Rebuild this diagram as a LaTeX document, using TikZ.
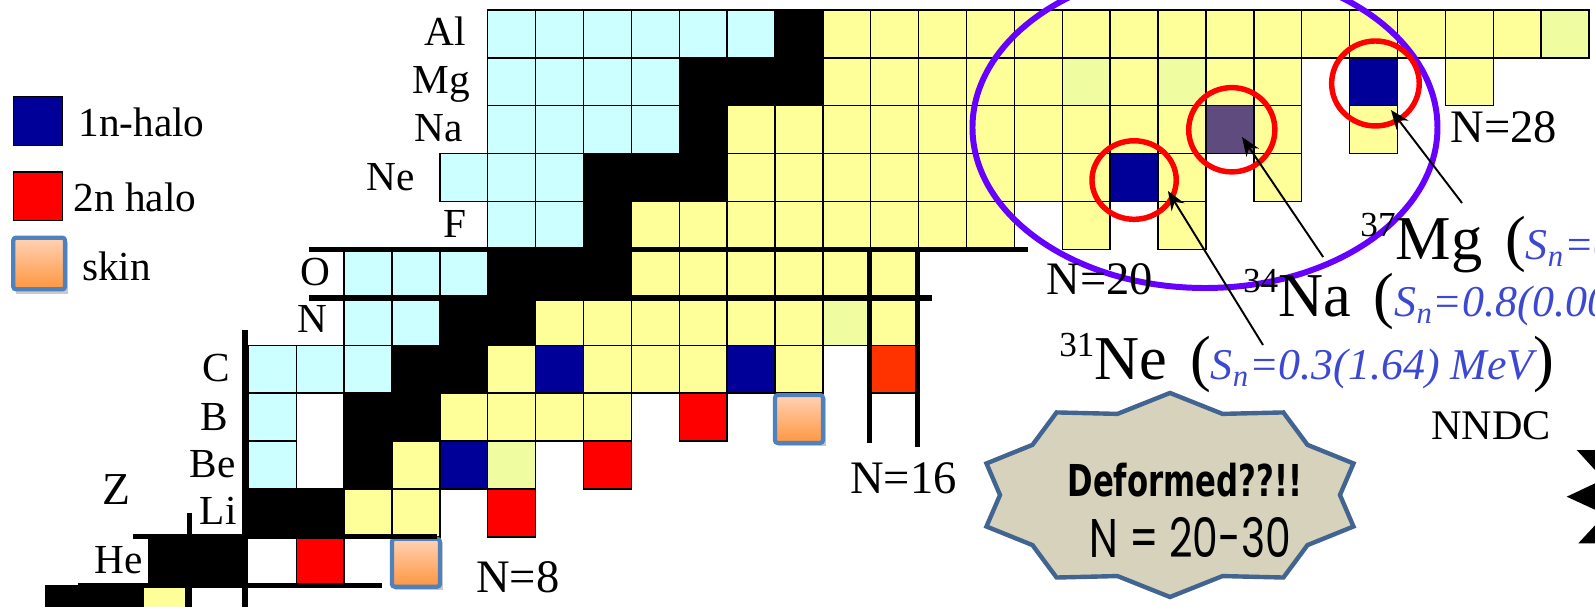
\documentclass[tikz,border=0pt]{standalone}
\usepackage{fontspec}
\setmainfont{Liberation Serif}
\newfontfamily\burstfont[FakeStretch=0.7]{DejaVu Sans}
\newfontfamily\handfont[FakeStretch=0.75]{Poppins}
\usetikzlibrary{arrows.meta}
\definecolor{protonrich}{RGB}{204,255,255}
\definecolor{betaminus}{RGB}{255,255,153}
\definecolor{palecell}{RGB}{240,252,160}
\definecolor{onehalo}{RGB}{0,0,153}
\definecolor{twohalo}{RGB}{255,0,0}
\definecolor{twohalob}{RGB}{255,51,0}
\definecolor{nacell}{RGB}{95,75,125}
\definecolor{skintop}{RGB}{255,210,180}
\definecolor{skinbot}{RGB}{255,150,64}
\definecolor{skinedge}{RGB}{79,129,189}
\definecolor{islandcol}{RGB}{102,0,255}
\definecolor{snblue}{RGB}{60,72,210}
\definecolor{burstfill}{RGB}{214,210,188}
\definecolor{burstedge}{RGB}{65,100,145}
\newcommand{\nuc}[3]{\draw[#3] (#1,#2) rectangle ++(1,1);}
\newcommand{\skincell}[2]{%
  \fill[black!35,opacity=0.6] (#1+0.06,#2-0.1) rectangle ++(1,1);
  \draw[skin] (#1,#2-0.04) rectangle ++(1,1);}
\newcommand{\massno}[1]{{\fontsize{20}{20}\selectfont\raisebox{13.6pt}{#1}}}
\newcommand{\sn}[1]{\textcolor{snblue}{\fontsize{25}{25}\selectfont\itshape S\textsubscript{n}=#1}}
\tikzset{
  cell/.style={draw=black,line width=0.8pt},
  cy/.style={cell,fill=protonrich},
  ye/.style={cell,fill=betaminus},
  pl/.style={cell,fill=palecell},
  st/.style={cell,fill=black},
  ha/.style={cell,fill=onehalo},
  hb/.style={cell,fill=twohalo},
  hc/.style={cell,fill=twohalob},
  nap/.style={cell,fill=nacell},
  skin/.style={draw=skinedge,line width=2.4pt,rounded corners=1.5pt,top color=skintop,bottom color=skinbot},
  magic/.style={line width=2.9pt},
  ring/.style={draw=red,line width=3.1pt},
  pointer/.style={-{Stealth[length=0.38cm,width=0.3cm]},line width=1.1pt},
  elem/.style={anchor=base east,inner sep=0pt,font=\fontsize{23.5}{26}\selectfont},
  legtext/.style={anchor=base west,inner sep=0pt,font=\fontsize{23.5}{26}\selectfont},
  nline/.style={anchor=base west,inner sep=0pt,font=\fontsize{26.5}{30}\selectfont},
  nucl/.style={anchor=base west,inner sep=0pt,font=\fontsize{35.5}{40}\selectfont},
}
\begin{document}
\begin{tikzpicture}[x=0.9576cm,y=0.958cm,>=Stealth]
  \useasboundingbox (-2.187,1.557) rectangle (31.126,14.209);
  \clip (-2.187,1.557) rectangle (31.126,14.209);

  % chart rows, Z = 13 (Al) down to Z = 1 (H)
  \foreach \n in {8,...,13} \nuc{\n}{13}{cy};
  \nuc{14}{13}{st};
  \foreach \n in {15,...,29} \nuc{\n}{13}{ye};
  \nuc{30}{13}{pl};

  \foreach \n in {8,...,11} \nuc{\n}{12}{cy};
  \foreach \n in {12,13,14} \nuc{\n}{12}{st};
  \foreach \n in {15,...,19} \nuc{\n}{12}{ye};
  \foreach \n in {21,23,24,28} \nuc{\n}{12}{ye};
  \foreach \n in {20,22} \nuc{\n}{12}{pl};
  \nuc{26}{12}{ha};

  \foreach \n in {8,...,11} \nuc{\n}{11}{cy};
  \nuc{12}{11}{st};
  \foreach \n in {13,...,22} \nuc{\n}{11}{ye};
  \foreach \n in {24,26} \nuc{\n}{11}{ye};
  \nuc{23}{11}{nap};

  \foreach \n in {7,8,9} \nuc{\n}{10}{cy};
  \foreach \n in {10,11,12} \nuc{\n}{10}{st};
  \foreach \n in {13,...,20} \nuc{\n}{10}{ye};
  \foreach \n in {22,24} \nuc{\n}{10}{ye};
  \nuc{21}{10}{ha};

  \foreach \n in {8,9} \nuc{\n}{9}{cy};
  \nuc{10}{9}{st};
  \foreach \n in {11,...,18} \nuc{\n}{9}{ye};
  \foreach \n in {20,22} \nuc{\n}{9}{ye};

  \foreach \n in {5,6,7} \nuc{\n}{8}{cy};
  \foreach \n in {8,9,10} \nuc{\n}{8}{st};
  \foreach \n in {11,...,16} \nuc{\n}{8}{ye};

  \foreach \n in {5,6} \nuc{\n}{7}{cy};
  \foreach \n in {7,8} \nuc{\n}{7}{st};
  \foreach \n in {9,...,14} \nuc{\n}{7}{ye};
  \nuc{15}{7}{pl};
  \nuc{16}{7}{ye};

  \foreach \n in {3,4,5} \nuc{\n}{6}{cy};
  \foreach \n in {6,7} \nuc{\n}{6}{st};
  \foreach \n in {8,10,11,12,14} \nuc{\n}{6}{ye};
  \foreach \n in {9,13} \nuc{\n}{6}{ha};
  \nuc{16}{6}{hc};

  \nuc{3}{5}{cy};
  \foreach \n in {5,6} \nuc{\n}{5}{st};
  \foreach \n in {7,...,10} \nuc{\n}{5}{ye};
  \nuc{12}{5}{hb};
  \skincell{14}{5}

  \nuc{3}{4}{cy};
  \nuc{5}{4}{st};
  \nuc{6}{4}{ye};
  \nuc{7}{4}{ha};
  \nuc{8}{4}{pl};
  \nuc{10}{4}{hb};

  \foreach \n in {3,4} \nuc{\n}{3}{st};
  \foreach \n in {5,6} \nuc{\n}{3}{ye};
  \nuc{8}{3}{hb};

  \fill[black] (0.91,2) rectangle (3,3);
  \nuc{4}{2}{hb};
  \skincell{6}{2}

  \fill[black] (-1.25,1.4) rectangle (0.8,1.99);
  \draw[ye] (0.8,1.4) rectangle (1.7,1.99);

  % shell closures
  \draw[magic] (4.27,9) -- (19.28,9);
  \draw[magic] (4.27,7.987) -- (17.28,7.987);
  \draw[magic] (15.98,9) -- (15.98,4.96);
  \draw[magic] (16.97,9) -- (16.97,4.88);
  \draw[magic] (2.93,7.32) -- (2.93,1.4);
  \draw[magic] (1.78,3.5) -- (1.78,1.4);
  \draw[magic] (0.59,3) -- (6.94,3);
  \draw[magic] (-0.56,1.985) -- (5.79,1.985);

  % island of inversion and the three halo candidates
  \draw[islandcol,line width=3.4pt] (22.98,11.547) ellipse [x radius=4.856, y radius=3.351];
  \draw[ring] (21.5,10.45) ellipse [x radius=0.88, y radius=0.82];
  \draw[ring] (23.54,11.5) ellipse [x radius=0.9, y radius=0.88];
  \draw[ring] (26.54,12.466) ellipse [x radius=0.915, y radius=0.887];

  % element names
  \node[elem] (al) at (7.546,13.269) {Al};
  \node[elem] (mg) at (7.63,12.261) {Mg};
  \node[elem] (na) at (7.48,11.265) {Na};
  \node[elem] (ne) at (6.48,10.242) {Ne};
  \node[elem] (fl) at (7.57,9.26) {F};
  \node[elem] (ox) at (4.71,8.24) {O};
  \node[elem] (ni) at (4.66,7.26) {N};
  \node[elem] (ca) at (2.62,6.234) {C};
  \node[elem] (bo) at (2.58,5.23) {B};
  \node[elem] (be) at (2.74,4.25) {Be};
  \node[elem] (li) at (2.76,3.25) {Li};
  \node[elem] (he) at (0.80,2.246) {He};
  \node[anchor=base,inner sep=0pt,font=\fontsize{26}{30}\selectfont] (zax) at (0.24,3.666) {Z};

  % legend
  \draw[ha] (-1.909,11.167) rectangle (-0.877,12.19);
  \node[legtext] (leg1) at (-0.557,11.349) {1n-halo};
  \draw[hb] (-1.909,9.601) rectangle (-0.877,10.618);
  \node[legtext] (leg2) at (-0.66,9.783) {2n halo};
  \fill[black!35,opacity=0.6] (-1.85,8.07) rectangle (-0.77,9.15);
  \draw[skin] (-1.909,8.169) rectangle (-0.829,9.246);
  \node[legtext] (leg3) at (-0.48,8.363) {skin};

  % neutron numbers
  \node[nline] (n8) at (7.755,1.829) {N=8};
  \node[nline] (n16) at (15.565,3.896) {N=16};
  \node[nline] (n20) at (19.66,8.05) {N=20};
  \node[nline] (n28) at (28.1,11.244) {N=28};

  % nuclei and separation energies
  \node[nucl] (ne31) at (19.93,6.276) {\massno{31}Ne\hspace{13pt}(\sn{0.3(1.64) MeV})};
  \node[nucl] (na34) at (23.77,7.597) {\massno{34}Na\hspace{13pt}(\sn{0.8(0.00}};
  \node[nucl] (mg37) at (26.22,8.781) {\massno{37}Mg\hspace{13pt}(\sn{0}};
  \coordinate (nefoot) at (24.192,7.006);
  \coordinate (netip) at (22.207,10.221);
  \coordinate (nafoot) at (25.448,8.843);
  \coordinate (natip) at (23.753,11.349);
  \coordinate (mgfoot) at (28.348,9.971);
  \coordinate (mgtip) at (26.865,11.912);
  \draw[pointer] (nefoot) -- (netip);
  \draw[pointer] (nafoot) -- (natip);
  \draw[pointer] (mgfoot) -- (mgtip);

  \node[anchor=base west,inner sep=0pt,font=\fontsize{24}{28}\selectfont] (nndc) at (27.7,5.023) {NNDC};

  % burst
  \begin{scope}[shift={(22.249,3.875)}]
    \draw[fill=burstfill,draw=burstedge,line width=2.5pt,line join=miter]
      (90:4.03 and 2.13) \foreach \a in {90,126,...,414} {-- (\a+18:3.55 and 1.78) -- (\a+36:4.03 and 2.13)} -- cycle;
  \end{scope}
  \node[font=\burstfont\bfseries\fontsize{25}{30}\selectfont,anchor=base,inner sep=0pt] (deform) at (22.56,3.833) {Deformed??!!};
  \node[font=\handfont\fontsize{31}{34}\selectfont,anchor=base,inner sep=0pt] (nrange) at (22.67,2.58) {N = 20-30};

  % edge of a black mark, cut by the frame
  \fill (30.744,4.814) -- (31.23,4.814) -- (31.23,4.282) -- cycle;
  \fill (30.535,3.839) -- (31.23,4.167) -- (31.23,3.520) -- cycle;
  \fill (30.777,2.866) -- (31.23,3.353) -- (31.23,2.866) -- cycle;
\end{tikzpicture}
\end{document}
